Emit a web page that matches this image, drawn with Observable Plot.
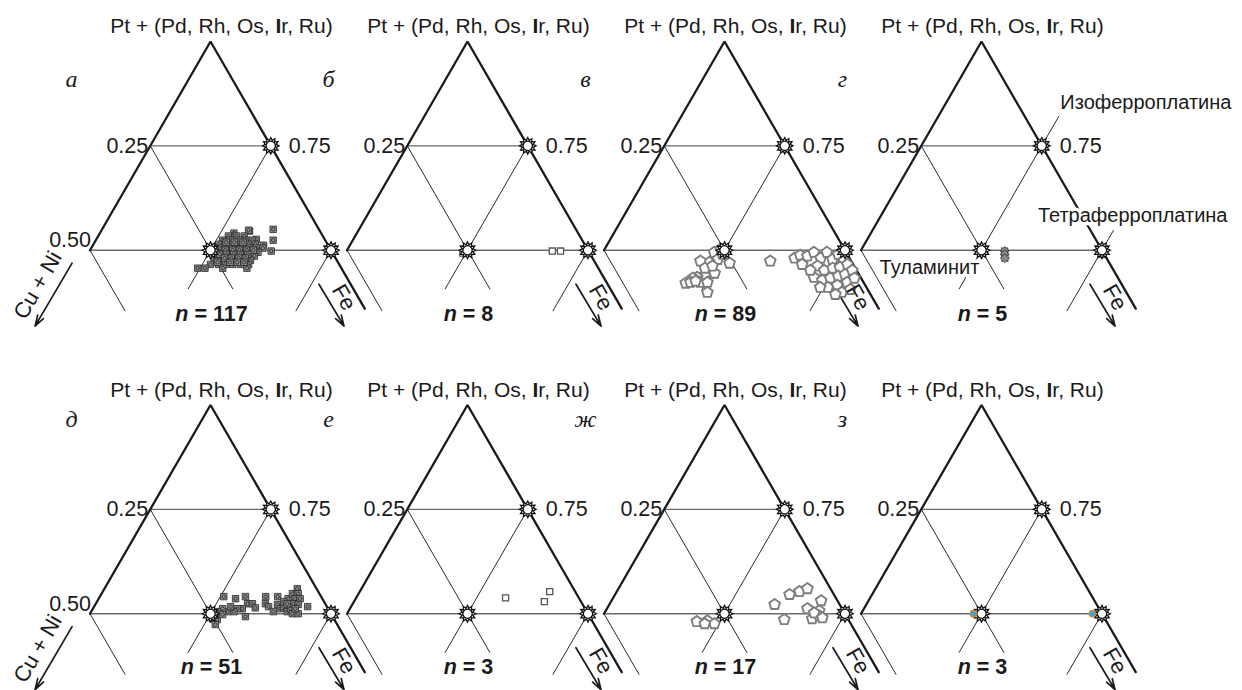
<!DOCTYPE html>
<html><head><meta charset="utf-8">
<script src="https://cdn.jsdelivr.net/npm/d3@7"></script>
<script src="https://cdn.jsdelivr.net/npm/@observablehq/plot@0.6"></script>
<style>body{margin:0;background:#fff}#chart svg{display:block}</style>
</head><body><div id="chart"></div>
<script>
// ---------- texts ----------
const panelLetters = ["а","б","в","г","д","е","ж","з"];
const panelN = [117, 8, 89, 5, 51, 3, 17, 3];
const apexLabel = "Pt + (Pd, Rh, Os, Ir, Ru)";
const leftAxisLabel = "Cu + Ni";
const rightAxisLabel = "Fe";
const tickLeft = ["0.25", "0.50"];
const tickRight = ["0.75"];
// reference minerals [Pt, Fe] (atomic fractions)
const minerals = [[0.75, 0.25], [0.5, 0.25], [0.5, 0.5]];
const mineralNames = ["Изоферроплатина", "Туламинит", "Тетраферроплатина"];

// ---------- data: [Pt, Fe] fractions (Cu+Ni = 1 - Pt - Fe) ----------
const ptsA = [[.550,.355],[.524,.368],[.498,.377],[.512,.354],[.526,.332],[.546,.308],[.541,.278],[.548,.305],
[.534,.270],[.534,.287],[.534,.303],[.524,.263],[.524,.279],[.524,.296],[.524,.313],[.524,.325],
[.514,.260],[.514,.274],[.514,.289],[.514,.305],[.514,.322],[.514,.336],
[.505,.256],[.505,.271],[.505,.285],[.505,.300],[.505,.314],[.505,.329],[.505,.343],[.505,.356],
[.495,.264],[.495,.279],[.495,.293],[.495,.308],[.495,.322],[.495,.337],[.495,.351],
[.486,.263],[.486,.278],[.486,.292],[.486,.307],[.486,.321],[.486,.336],[.486,.348],
[.476,.270],[.476,.285],[.476,.299],[.476,.314],[.476,.328],[.476,.345],
[.466,.267],[.466,.284],[.466,.298],[.466,.313],[.466,.329],[.466,.346],
[.457,.245],[.457,.260],[.457,.297],[.457,.347],
[.519,.273],[.519,.290],[.519,.308],[.500,.267],[.500,.281],[.500,.296],[.500,.310],[.500,.325],[.500,.339],
[.490,.274],[.490,.288],[.490,.303],[.490,.317],[.490,.332],[.481,.289],[.481,.303],[.481,.318],[.481,.332],
[.471,.279],[.471,.305],[.471,.320],[.471,.334]];
const ptsB = [[.493,.244],[.493,.256],[.500,.244],[.500,.256],[.495,.252],[.502,.247],[.498,.427],[.498,.444]];
const ptsV = [[.495,.231],[.478,.247],[.471,.233],[.474,.213],[.469,.276],[.445,.249],[.440,.239],[.435,.226],[.433,.218],[.421,.209],
[.423,.218],[.423,.238],[.423,.253],[.445,.257],[.399,.265],[.426,.227],[.502,.241],[.490,.251],[.457,.231],[.462,.244],
[.474,.358],[.481,.405],[.488,.413],
[.486,.429],[.495,.438],[.481,.459],[.495,.465],[.478,.485],[.490,.491],[.476,.510],[.462,.462],[.452,.481],[.457,.496],
[.459,.510],[.466,.522],[.435,.468],[.428,.489],[.433,.503],[.438,.517],[.442,.529],[.452,.539],[.411,.509],[.416,.526],
[.423,.543],[.433,.553],[.399,.544],[.406,.558],[.452,.452],[.466,.428],[.411,.493],[.394,.533]];
const ptsG = [[.498,.299],[.490,.303],[.481,.308],[.498,.499],[.490,.505]];
const ptsD = [[.541,.257],[.536,.284],[.541,.302],[.524,.315],[.524,.325],[.514,.336],[.512,.310],[.512,.300],[.505,.296],[.505,.283],
[.512,.269],[.505,.262],[.493,.264],[.488,.260],[.486,.271],[.474,.273],[.498,.276],[.493,.326],[.541,.344],[.524,.352],
[.517,.362],[.541,.369],[.522,.378],[.505,.378],[.512,.389],[.517,.393],[.505,.407],[.512,.410],[.536,.393],[.548,.396],
[.560,.400],[.548,.408],[.536,.408],[.536,.418],[.524,.410],[.522,.421],[.500,.420],[.500,.432],[.517,.443],[.529,.387],
[.512,.420],[.524,.397],[.517,.283],[.498,.259]];
const ptsE = [[.538,.310],[.553,.394],[.529,.395]];
const ptsZh = [[.481,.202],[.483,.223],[.476,.241],[.476,.221],[.522,.343],[.486,.381],[.546,.362],[.553,.379],[.560,.392],
[.512,.416],[.507,.443],[.531,.435],[.488,.438],[.495,.449],[.502,.435],[.490,.458]];
const ptsZ = [[.500,.233],[.500,.233],[.500,.480]];
const pointSets = [ptsA, ptsB, ptsV, ptsG, ptsD, ptsE, ptsZh, ptsZ];
const markerKind = ["sqdot","sq","pent","gear","sqdot","sq","pent","blue"];

// ---------- layout (ternary -> plane) ----------
const W = 1242, HT = 690;
const S = 482;                 // pixels per unit triangle side
const H = Math.sqrt(3) / 2;
const COL = 257 / S, ROW = 363.5 / S;
const APEX_X = 210, APEX_Y = 41;
function P(i, pt, fe) {
  return {x: (i % 4) * COL + fe + pt / 2, y: pt * H - Math.floor(i / 4) * ROW};
}
function seg(i, [p1, f1, p2, f2]) {
  const a = P(i, p1, f1), b = P(i, p2, f2);
  return {i, x1: a.x, y1: a.y, x2: b.x, y2: b.y};
}
const panels = d3.range(8);
const topRow = panels.filter(i => i < 4), bottomRow = panels.filter(i => i >= 4);

const sides = panels.flatMap(i => [[.5, 0], [1, 0], [.5, .5], [.36, .64]].map(([pt, fe]) => ({i, ...P(i, pt, fe)})));
const hLines = panels.flatMap(i => [[.75, 0, .75, .25], [.5, 0, .5, .5]].map(s => seg(i, s)));
const dLines = panels.flatMap(i => [[.75, 0, .4066, .3434], [.75, .25, .4066, .25], [.5, 0, .354, .146], [.5, .5, .354, .5]].map(s => seg(i, s)))
  .concat([[.75, .25, .822, .25], [.5, .5, .548, .5]].map(s => seg(3, s)));
const feArrows = panels.map(i => seg(i, [.4185, .5158, .318, .618]));
const cuArrows = [0, 4].map(i => seg(i, [.469, -.0217, .318, -.023]));

const dots = pointSets.flatMap((arr, i) => arr.map(([pt, fe]) => ({i, kind: markerKind[i], ...P(i, pt, fe)})));
const stars = panels.flatMap(i => minerals.map(([pt, fe]) => ({i, ...P(i, pt, fe)})));

const labelsStart = [
  {t: mineralNames[0], ...P(3, .853, .237)},
  {t: mineralNames[2], ...P(3, .584, .325)}
];
const labelsEnd = [{t: mineralNames[1], ...P(3, .459, .266)}];

// ---------- symbols ----------
const sqDot = {draw(c, size) { const r = Math.sqrt(size / Math.PI), s = r * 0.92; c.rect(-s, -s, 2 * s, 2 * s); c.moveTo(r * 0.5, 0); c.arc(0, 0, r * 0.5, 0, 2 * Math.PI); }};
const sq = {draw(c, size) { const r = Math.sqrt(size / Math.PI), s = r * 0.85; c.rect(-s, -s, 2 * s, 2 * s); }};
const pent = {draw(c, size) { const r = Math.sqrt(size / Math.PI); for (let k = 0; k < 5; k++) { const a = -Math.PI / 2 + k * 2 * Math.PI / 5; k ? c.lineTo(r * Math.cos(a), r * Math.sin(a)) : c.moveTo(r * Math.cos(a), r * Math.sin(a)); } c.closePath(); }};
function sunSym(n, ratio, inner) {
  return {draw(c, size) {
    const R = Math.sqrt(size / Math.PI);
    for (let k = 0; k < 2 * n; k++) { const a = -Math.PI / 2 + k * Math.PI / n, rr = k % 2 ? R * ratio : R; k ? c.lineTo(rr * Math.cos(a), rr * Math.sin(a)) : c.moveTo(rr * Math.cos(a), rr * Math.sin(a)); }
    c.closePath();
    if (inner) { const q = R * inner; c.moveTo(q, 0); c.arc(0, 0, q, 0, 2 * Math.PI); }
  }};
}
const sun = sunSym(12, 0.68, 0.56);
const gear = sunSym(8, 0.72, 0);

const pos = {x: "x", y: "y"};
const tp = (i, pt, fe) => P(i, pt, fe);
const font = "Liberation Sans, Arial, sans-serif";
const FS = 21.5, FM = 20;

const chart = Plot.plot({
  width: W, height: HT, margin: 0,
  x: {domain: [0.5 - APEX_X / S, 0.5 + (W - APEX_X) / S], axis: null},
  y: {domain: [H + APEX_Y / S - HT / S, H + APEX_Y / S], axis: null},
  style: {fontFamily: font, background: "white", color: "#1a1a1a"},
  marks: [
    Plot.link(hLines, {x1: "x1", y1: "y1", x2: "x2", y2: "y2", stroke: "#6a6a6a", strokeWidth: 1.4}),
    Plot.link(dLines, {x1: "x1", y1: "y1", x2: "x2", y2: "y2", stroke: "#2a2a2a", strokeWidth: 1}),
    Plot.line(sides, {x: "x", y: "y", z: "i", stroke: "#1a1a1a", strokeWidth: 2.3, strokeLinejoin: "miter"}),
    Plot.arrow(feArrows, {x1: "x1", y1: "y1", x2: "x2", y2: "y2", stroke: "#1a1a1a", strokeWidth: 1.7, headLength: 10, headAngle: 34}),
    Plot.arrow(cuArrows, {x1: "x1", y1: "y1", x2: "x2", y2: "y2", stroke: "#1a1a1a", strokeWidth: 1.7, headLength: 10, headAngle: 34}),
    Plot.dot(dots.filter(d => d.kind === "sqdot"), {...pos, symbol: sqDot, r: 3.5, fill: "#8f8f8f", stroke: "#222", strokeWidth: 0.8}),
    Plot.dot(dots.filter(d => d.kind === "sq"), {...pos, symbol: sq, r: 3.6, fill: "white", stroke: "#555", strokeWidth: 1.3}),
    Plot.dot(dots.filter(d => d.kind === "pent"), {...pos, symbol: pent, r: 5.6, fill: "white", stroke: "#7d7d7d", strokeWidth: 1.9}),
    Plot.dot(dots.filter(d => d.kind === "gear"), {...pos, symbol: gear, r: 4.6, fill: "#8a8a8a", stroke: "#333", strokeWidth: 0.8}),
    Plot.dot(stars, {...pos, symbol: sun, r: 8.3, fill: "white", stroke: "#111", strokeWidth: 1.3}),
    Plot.dot(dots.filter(d => d.kind === "blue"), {...pos, r: 3.1, fill: "#35a7df", stroke: "#e0802a", strokeWidth: 1.2}),
    // titles
    Plot.text(panels, {x: i => tp(i, 1, 0).x, y: i => tp(i, 1, 0).y, text: () => apexLabel, dx: 11, dy: -15, fontSize: 21, fill: "#1a1a1a"}),
    // panel letters
    Plot.text(topRow, {x: i => tp(i, 1, 0).x, y: i => tp(i, 1, 0).y, text: i => panelLetters[i], dx: -139, dy: 38, fontSize: 24, fontStyle: "italic", fontFamily: "Liberation Serif, Times New Roman, serif"}),
    Plot.text(bottomRow, {x: i => tp(i, 1, 0).x, y: i => tp(i, 1, 0).y, text: i => panelLetters[i], dx: -139, dy: 14, fontSize: 24, fontStyle: "italic", fontFamily: "Liberation Serif, Times New Roman, serif"}),
    // tick labels
    Plot.text(panels, {x: i => tp(i, .75, 0).x, y: i => tp(i, .75, 0).y, text: () => tickLeft[0], textAnchor: "end", dx: -2, fontSize: FS}),
    Plot.text(panels, {x: i => tp(i, .75, .25).x, y: i => tp(i, .75, .25).y, text: () => tickRight[0], textAnchor: "start", dx: 18, fontSize: FS}),
    Plot.text([0, 4], {x: i => tp(i, .5, 0).x, y: i => tp(i, .5, 0).y, text: () => tickLeft[1], textAnchor: "end", dx: 1, dy: -10, fontSize: FS}),
    // axis labels
    Plot.text(panels, {x: i => tp(i, .387, .583).x, y: i => tp(i, .387, .583).y, text: () => rightAxisLabel, rotate: 60, fontSize: 22}),
    Plot.text([0, 4], {x: i => tp(i, .416, -.066).x, y: i => tp(i, .416, -.066).y, text: () => leftAxisLabel, rotate: -60, fontSize: 22}),
    // n labels
    Plot.text(topRow, {x: i => tp(i, .5, .25).x, y: i => tp(i, .5, .25).y, text: i => `n = ${panelN[i]}`, dx: 1, dy: 64, fontSize: FS, fontWeight: "bold"}),
    Plot.text(bottomRow, {x: i => tp(i, .5, .25).x, y: i => tp(i, .5, .25).y, text: i => `n = ${panelN[i]}`, dx: 1, dy: 53, fontSize: FS, fontWeight: "bold"}),
    // mineral names (white halo then text)
    Plot.text(labelsStart, {x: "x", y: "y", text: "t", textAnchor: "start", fontSize: FM, fill: "white", stroke: "white", strokeWidth: 7}),
    Plot.text(labelsEnd, {x: "x", y: "y", text: "t", textAnchor: "end", fontSize: FM, fill: "white", stroke: "white", strokeWidth: 7}),
    Plot.text(labelsStart, {x: "x", y: "y", text: "t", textAnchor: "start", fontSize: FM, fill: "#1a1a1a"}),
    Plot.text(labelsEnd, {x: "x", y: "y", text: "t", textAnchor: "end", fontSize: FM, fill: "#1a1a1a"})
  ]
});

// mixed styles inside a label: italic n, bold I
const NS = "http://www.w3.org/2000/svg";
chart.querySelectorAll("text").forEach(t => {
  const s = t.textContent;
  if (s.startsWith("n = ")) {
    t.textContent = "";
    const a = document.createElementNS(NS, "tspan"); a.setAttribute("font-style", "italic"); a.textContent = "n";
    t.append(a, document.createTextNode(s.slice(1)));
  } else if (s === apexLabel) {
    const k = s.indexOf("Ir");
    t.textContent = "";
    const b = document.createElementNS(NS, "tspan"); b.setAttribute("font-weight", "bold"); b.textContent = "I";
    t.append(document.createTextNode(s.slice(0, k)), b, document.createTextNode(s.slice(k + 1)));
  }
});
document.getElementById("chart").append(chart);
</script>
</body></html>
